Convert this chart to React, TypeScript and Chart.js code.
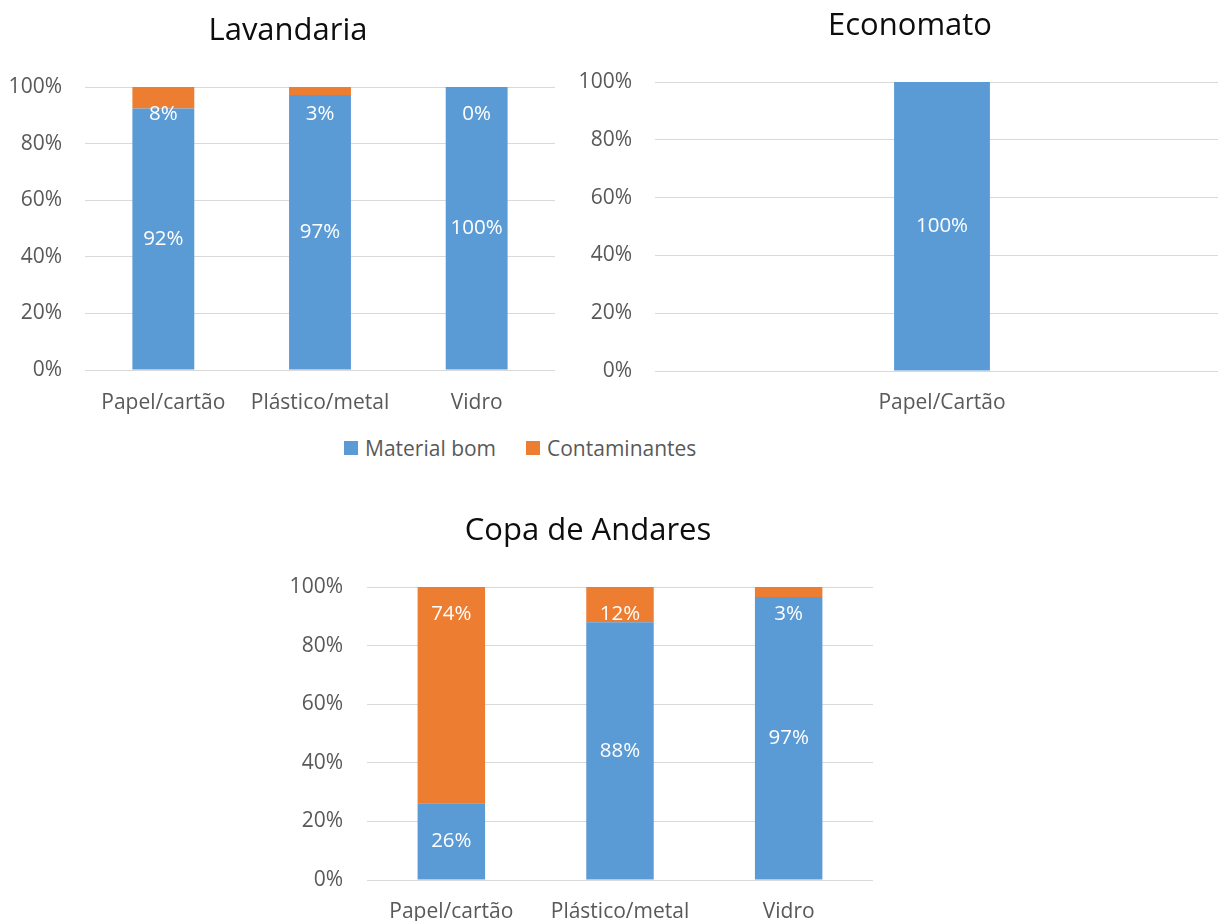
import React, { useEffect, useRef } from 'react';
import { Chart, registerables } from 'chart.js';

Chart.register(...registerables);

// ---- data ----
const seriesNames = ['Material bom', 'Contaminantes'];
const seriesColors = ['#5B9BD5', '#ED7D31'];

const lavTitle = 'Lavandaria';
const lavCategories = ['Papel/cartão', 'Plástico/metal', 'Vidro'];
const lavGood = [92.4, 97.2, 100];
const lavCont = [7.6, 2.8, 0];

const ecoTitle = 'Economato';
const ecoCategories = ['Papel/Cartão'];
const ecoGood = [100];

const copaTitle = 'Copa de Andares';
const copaCategories = ['Papel/cartão', 'Plástico/metal', 'Vidro'];
const copaGood = [26.2, 88, 96.6];
const copaCont = [73.8, 12, 3.4];

const yMin = 0;
const yMax = 100;
const yStep = 20;

const FONT = '"Open Sans", "DejaVu Sans", sans-serif';
const TICK_SIZE = 21;
const LABEL_SIZE = 20.5;
const TITLE_SIZE = 31;
const GRID = '#D9D9D9';
const TEXT = '#595959';

const labelPlugin = {
  id: 'barLabels',
  afterDatasetsDraw(chart: any) {
    const ctx = chart.ctx;
    ctx.save();
    ctx.font = `${LABEL_SIZE}px ${FONT}`;
    ctx.fillStyle = '#FFFFFF';
    ctx.textAlign = 'center';
    ctx.textBaseline = 'middle';
    chart.data.datasets.forEach((ds: any, di: number) => {
      const meta = chart.getDatasetMeta(di);
      meta.data.forEach((el: any, i: number) => {
        const v = ds.data[i];
        const p = el.getProps(['x', 'y', 'base'], true);
        const cy = di === 0 ? (p.y + p.base) / 2 : p.y + 27.5;
        ctx.fillText(Math.round(v) + '%', p.x, cy);
      });
    });
    ctx.restore();
  },
};

type BoxProps = {
  left: number;
  top: number;
  width: number;
  height: number;
  title: string;
  categories: string[];
  series: number[][];
  barPct: number;
  yAxisWidth: number;
  yPad: number;
  xAxisHeight: number;
  xPad: number;
  titleTop: number;
  titleBottom: number;
  rightGap: number;
};

function ChartBox(props: BoxProps) {
  const ref = useRef<HTMLCanvasElement | null>(null);
  useEffect(() => {
    if (!ref.current) return;
    const chart = new Chart(ref.current, {
      type: 'bar',
      data: {
        labels: props.categories,
        datasets: props.series.map((d, i) => ({
          label: seriesNames[i],
          data: d,
          backgroundColor: seriesColors[i],
          borderWidth: 0,
          barPercentage: props.barPct,
          categoryPercentage: 1,
          yAxisID: 'y',
        })),
      },
      options: {
        responsive: false,
        animation: false,
        devicePixelRatio: 1,
        layout: { padding: 0 },
        plugins: {
          legend: { display: false },
          tooltip: { enabled: false },
          title: {
            display: true,
            text: props.title,
            color: '#0D0D0D',
            font: { family: FONT, size: TITLE_SIZE, weight: 'normal' as any, lineHeight: 1.2 },
            padding: { top: props.titleTop, bottom: props.titleBottom },
          },
        },
        scales: {
          x: {
            stacked: true,
            grid: { display: false },
            border: { display: false },
            ticks: {
              color: TEXT,
              font: { family: FONT, size: TICK_SIZE },
              padding: props.xPad,
              maxRotation: 0,
            },
            afterFit: (s: any) => {
              s.height = props.xAxisHeight;
            },
          },
          y: {
            stacked: true,
            min: yMin,
            max: yMax,
            grid: { color: GRID, lineWidth: 1, drawTicks: false },
            border: { display: false },
            ticks: {
              stepSize: yStep,
              color: TEXT,
              font: { family: FONT, size: TICK_SIZE },
              padding: props.yPad,
              callback: (v: any) => v + '%',
            },
            afterFit: (s: any) => {
              s.width = props.yAxisWidth;
            },
          },
          gap: {
            type: 'linear',
            position: 'right',
            min: 0,
            max: 1,
            grid: { display: false },
            border: { display: false },
            ticks: { display: false },
            afterFit: (s: any) => {
              s.width = props.rightGap;
            },
          },
        },
      },
      plugins: [labelPlugin],
    });
    return () => chart.destroy();
  }, []);
  return (
    <canvas
      ref={ref}
      width={props.width}
      height={props.height}
      style={{ position: 'absolute', left: props.left, top: props.top, width: props.width, height: props.height }}
    />
  );
}

function LegendItem({ left, color, text }: { left: number; color: string; text: string }) {
  return (
    <div
      style={{
        position: 'absolute',
        left,
        top: 434,
        height: 28,
        display: 'flex',
        alignItems: 'center',
        fontFamily: FONT,
        fontSize: TICK_SIZE,
        color: TEXT,
        whiteSpace: 'nowrap',
      }}
    >
      <span style={{ display: 'inline-block', width: 14, height: 14, background: color, marginRight: 7 }} />
      <span>{text}</span>
    </div>
  );
}

export default function App() {
  return (
    <div
      style={{
        position: 'absolute',
        left: 0,
        top: 0,
        width: 1218,
        height: 921,
        overflow: 'hidden',
        background: '#FFFFFF',
      }}
    >
      <ChartBox
        left={0}
        top={0}
        width={576}
        height={420}
        title={lavTitle}
        categories={lavCategories}
        series={[lavGood, lavCont]}
        barPct={0.395}
        yAxisWidth={85}
        yPad={23}
        xAxisHeight={50}
        xPad={12.5}
        titleTop={12.5}
        titleBottom={37.3}
        rightGap={21}
      />
      <ChartBox
        left={575}
        top={0}
        width={670}
        height={420}
        title={ecoTitle}
        categories={ecoCategories}
        series={[ecoGood]}
        barPct={0.167}
        yAxisWidth={80}
        yPad={23}
        xAxisHeight={49}
        xPad={11.5}
        titleTop={7.5}
        titleBottom={37.3}
        rightGap={16}
      />
      <LegendItem left={344} color={seriesColors[0]} text={seriesNames[0]} />
      <LegendItem left={526} color={seriesColors[1]} text={seriesNames[1]} />
      <ChartBox
        left={290}
        top={480}
        width={596}
        height={441}
        title={copaTitle}
        categories={copaCategories}
        series={[copaGood, copaCont]}
        barPct={0.4}
        yAxisWidth={77}
        yPad={24}
        xAxisHeight={41}
        xPad={11.5}
        titleTop={32.5}
        titleBottom={37.3}
        rightGap={13}
      />
    </div>
  );
}
